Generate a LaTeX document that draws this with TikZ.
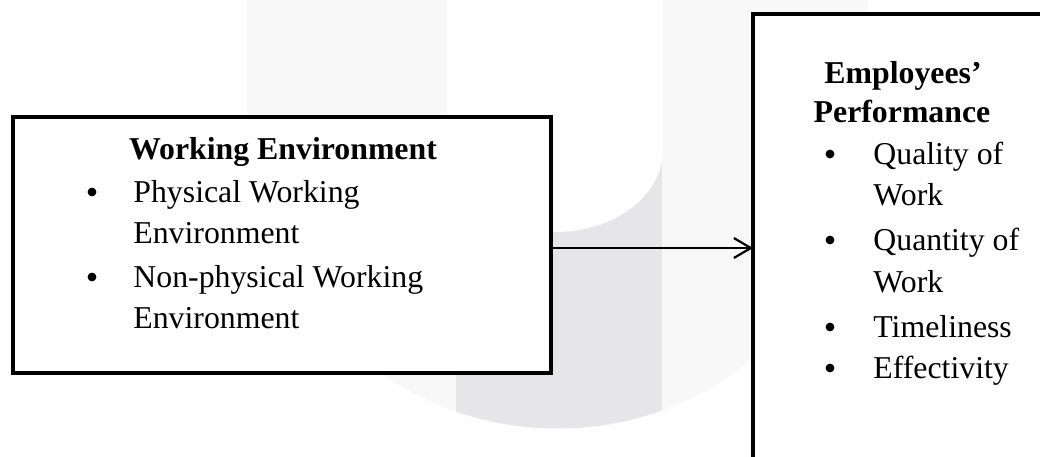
\documentclass[tikz,border=0pt]{standalone}
\usepackage{fontspec}
\setmainfont{Liberation Serif}
\usetikzlibrary{arrows.meta}
\definecolor{wmlight}{RGB}{248,248,248}
\definecolor{wmdark}{RGB}{230,230,232}
\tikzset{box/.style={draw, line width=2pt, fill=white, inner sep=0pt, outer sep=0pt}}

\begin{document}
\begin{tikzpicture}[x=0.5pt,y=-0.5pt]
\tikzset{listtext/.style={anchor=base west, inner sep=0pt, font=\fontsize{15.9}{19}\selectfont},
  headtext/.style={anchor=base, inner sep=0pt, font=\fontsize{15.9}{19}\selectfont\bfseries},
  bullet/.style={circle, fill=black, inner sep=0pt, minimum size=4.4pt}}
\clip (0,0) rectangle (1040,456);
% faint U behind everything
\begin{scope}
\clip (247,-10) -- (247,118) arc[start angle=180, end angle=0, radius=310.5] -- (868,-10) -- cycle;
\fill[wmlight] (0,0) rectangle (1040,456);
\fill[wmdark] (456,100) rectangle (662,456);
\end{scope}
\fill[white] (447,-10) -- (447,150) arc[start angle=180, end angle=0, x radius=108, y radius=82] -- (663,-10) -- cycle;
% the two boxes
\node[box, minimum width=269pt, minimum height=128pt] (wenv) at (282,245) {};
\node[box, minimum width=173.5pt, minimum height=243pt] (eperf) at (926.5,257) {};
\draw[line width=1.1pt, -{Straight Barb[length=8.5pt,width=10pt]}] ([yshift=-1.5pt]wenv.east) -- ([yshift=-1.5pt]wenv.east -| eperf.west);
% left list
\node[headtext] (wetitle) at (283,159) {Working Environment};
\foreach \y/\t [count=\i] in {202/Physical Working, 243/Environment, 287/Non-physical Working, 328/Environment}
  \node[listtext] (wel\i) at (133,\y) {\t};
\foreach \y [count=\i] in {202,287} \node[bullet] (web\i) at (92,\y-10) {};
% right list
\node[headtext] (eptitlea) at (903,83) {Employees’};
\node[headtext] (eptitleb) at (902,122) {Performance};
\foreach \y/\t [count=\i] in {164/Quality of, 205/Work, 250/Quantity of, 292/Work, 337/Timeliness, 378/Effectivity}
  \node[listtext] (epl\i) at (873,\y) {\t};
\foreach \y [count=\i] in {164,250,337,378} \node[bullet] (epb\i) at (830,\y-10) {};
\end{tikzpicture}
\end{document}
